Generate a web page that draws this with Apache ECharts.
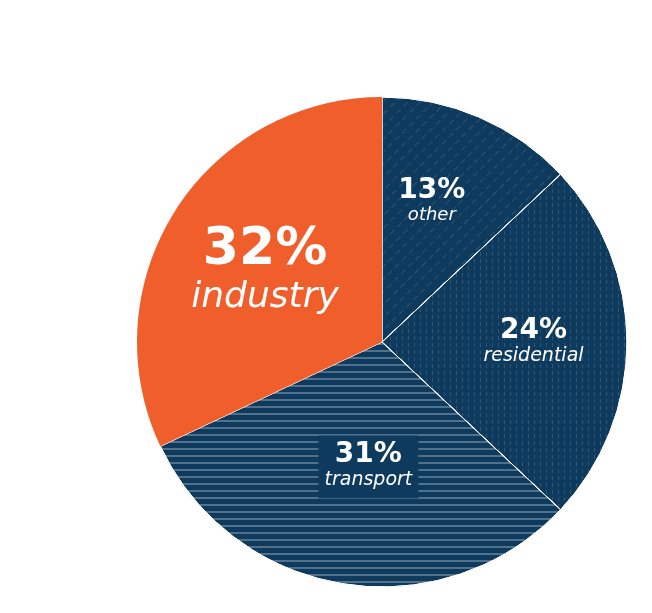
<!DOCTYPE html>
<html><head><meta charset="utf-8">
<script src="https://cdn.jsdelivr.net/npm/echarts@6/dist/echarts.min.js"></script>
<style>html,body{margin:0;padding:0;background:#fff}#c{width:652px;height:613px}</style>
</head><body><div id="c"></div>
<script>
const categories = ['other', 'residential', 'transport', 'industry'];
const values = [13, 24, 31, 32];

const NAVY = '#0e3a5d';
const ORANGE = '#f05e2c';
const decals = [
  {symbol:'rect', color:'rgba(255,255,255,0.13)', dashArrayX:[[6,4]], dashArrayY:[1,8], rotation:-Math.PI/4},
  {symbol:'rect', color:'rgba(255,255,255,0.14)', dashArrayX:[1,5], dashArrayY:[4,3]},
  {symbol:'rect', color:'rgba(255,255,255,0.28)', dashArrayX:[1,0], dashArrayY:[2,5]},
  null
];
const labelShift = [[0,-25],[26,0],[6,1],[-11,-3]];
const pSize = [28, 28, 28, 52];
const nSize = [18, 19, 19, 36];

const chart = echarts.init(document.getElementById('c'), null, {renderer:'canvas'});
chart.setOption({
  animation:false,
  series:[{
    type:'pie',
    center:[382,342],
    radius:[0,245],
    startAngle:90,
    clockwise:true,
    avoidLabelOverlap:false,
    data: categories.map((n,i)=>({
      name:n, value:values[i],
      itemStyle:{color: i===3?ORANGE:NAVY, borderColor:'#ffffff', borderWidth: i===3?0:1, decal: decals[i] || undefined},
      label:{
        show:true, position:'inside',
        formatter:'{p|{c}%}\n{n|{b}}',
        backgroundColor: i===2? NAVY : 'transparent',
        padding: i===2? [5,6,7,6] : 0,
        rich:{
          p:{fontFamily:'DejaVu Sans', fontWeight:'bold', fontSize:pSize[i], color:'#fff', lineHeight:pSize[i]*1.0, align:'center'},
          n:{fontFamily:'DejaVu Sans', fontWeight:'normal', fontStyle:'italic', fontSize:nSize[i], color:'#fff', lineHeight:nSize[i]*1.2, align:'center'}
        }
      }
    })),
    labelLine:{show:false},
    labelLayout: function(p){ const s = labelShift[p.dataIndex]; return {dx:s[0], dy:s[1]}; },
    emphasis:{disabled:true}
  }]
});
</script></body></html>
